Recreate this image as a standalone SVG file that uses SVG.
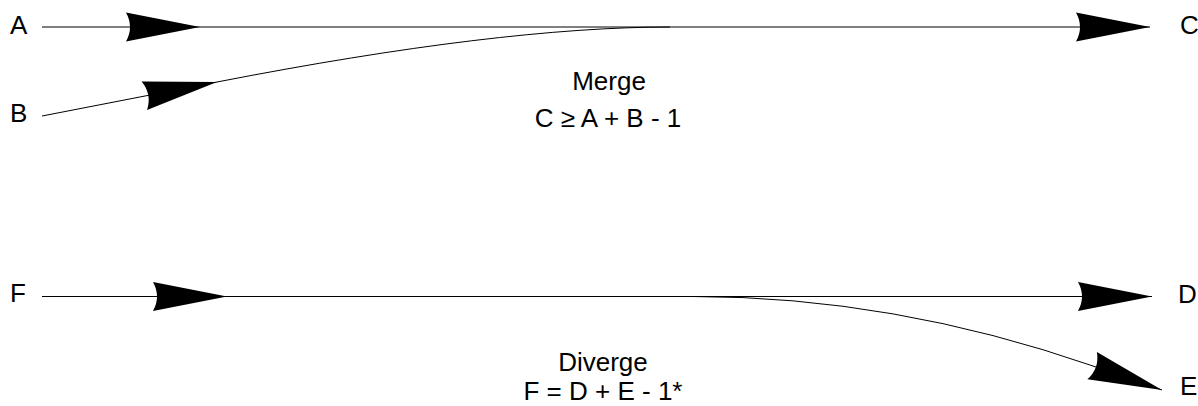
<svg xmlns="http://www.w3.org/2000/svg" xmlns:xlink="http://www.w3.org/1999/xlink" width="1198" height="406" viewBox="0 0 1198 406">
  <style>
    .lbl { font-family: "Liberation Sans", Arial, sans-serif; font-size: 26px; fill: #000; }
    .mid { text-anchor: middle; }
    .wire { fill: none; stroke: #000; stroke-width: 1; }
    .head { fill: #000; stroke: none; }
  </style>
  <defs>
    <path id="ah" class="head" d="M0,0 L-74,-14.5 Q-66,0 -74,14.5 Z"/>
  </defs>
  <rect width="1198" height="406" fill="#fff"/>

  <g id="connectors">
    <!-- Merge -->
    <path class="wire" d="M42,27 L1150,27"/>
    <path class="wire" d="M42,116 L217,82 Q500,27 670,27"/>
    <use xlink:href="#ah" transform="translate(200,27)"/>
    <use xlink:href="#ah" transform="translate(1150,27)"/>
    <use xlink:href="#ah" transform="translate(217,82) rotate(-10.8)"/>
    <!-- Diverge -->
    <path class="wire" d="M42,296.5 L1152,296.5"/>
    <path class="wire" d="M693,296.5 Q893,296.5 1093,366 L1162,390"/>
    <use xlink:href="#ah" transform="translate(227,296.5)"/>
    <use xlink:href="#ah" transform="translate(1152,296.5)"/>
    <use xlink:href="#ah" transform="translate(1162,390) rotate(19.2)"/>
  </g>

  <g id="node-A"><text class="lbl" x="10" y="34">A</text></g>
  <g id="node-B"><text class="lbl" x="10" y="122">B</text></g>
  <g id="node-C"><text class="lbl" x="1180" y="34">C</text></g>
  <g id="merge-label">
    <text class="lbl mid" x="609" y="90">Merge</text>
    <text class="lbl mid" x="608" y="127">C ≥ A + B - 1</text>
  </g>

  <g id="node-F"><text class="lbl" x="10" y="302">F</text></g>
  <g id="node-D"><text class="lbl" x="1178" y="303">D</text></g>
  <g id="node-E"><text class="lbl" x="1180" y="395">E</text></g>
  <g id="diverge-label">
    <text class="lbl mid" x="603" y="371">Diverge</text>
    <text class="lbl mid" x="603" y="400">F = D + E - 1*</text>
  </g>
</svg>
